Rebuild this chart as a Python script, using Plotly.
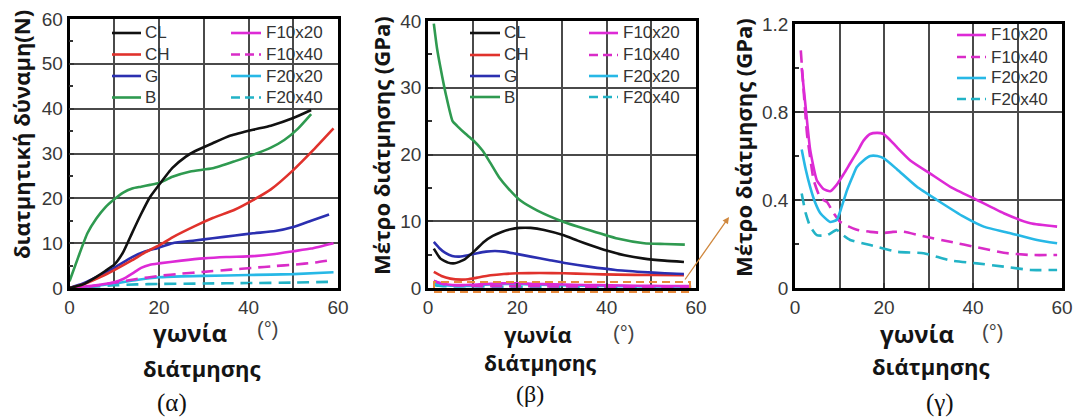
import plotly.graph_objects as go

W, H = 1076, 419

# ---------------- data ----------------
# (α) shear force (N) vs shear angle (deg)
a_CL_x = [0, 3, 6, 8, 10, 12, 14, 16, 18, 20, 23, 26, 28, 32, 36, 41, 45, 50, 54]
a_CL_y = [0, 0.8, 2.5, 3.8, 5.2, 8, 12.3, 16.5, 20.3, 23, 26.8, 29.3, 30.5, 32.3, 34, 35.3, 36.2, 37.9, 39.7]
a_CH_x = [0, 3, 7, 10, 14, 17, 20, 23, 28, 32, 37, 41, 45, 50, 54.5, 59]
a_CH_y = [0, 0.8, 2.5, 4, 6.2, 8, 9.5, 11.3, 13.8, 15.6, 17.5, 19.6, 22, 26.3, 30.8, 35.6]
a_G_x = [0, 3, 7, 10, 14, 17, 20, 23, 28, 32, 37, 41, 46, 50, 54, 58]
a_G_y = [0, 1, 2.9, 4.5, 6.9, 8.2, 9, 10, 10.6, 11.1, 11.7, 12.2, 12.7, 13.6, 15, 16.4]
a_B_x = [0, 2, 4, 6, 8, 10, 12, 14, 16, 18, 20, 23, 27, 32, 37, 41, 45, 48, 51, 54]
a_B_y = [1.5, 7, 12.2, 15.5, 18, 19.8, 21.3, 22.2, 22.6, 23, 23.4, 24.8, 26, 26.7, 28.3, 29.7, 31.3, 33, 35.5, 38.8]
a_F1020_x = [0, 5, 10, 12, 14, 16, 18, 20, 25, 30, 35, 41, 46, 50, 54, 59]
a_F1020_y = [0, 0.5, 1.3, 2, 3.2, 4.5, 5.2, 5.5, 6.1, 6.6, 6.9, 7.1, 7.6, 8.2, 8.8, 10]
a_F1040_x = [0, 5, 10, 15, 20, 25, 30, 36, 41, 46, 50, 55, 59]
a_F1040_y = [0, 0.4, 1.2, 2, 2.7, 3.2, 3.6, 4.1, 4.5, 4.9, 5.2, 5.7, 6.3]
a_F2020_x = [0, 5, 10, 15, 20, 25, 30, 40, 50, 59]
a_F2020_y = [0, 0.4, 1, 1.8, 2.4, 2.6, 2.7, 2.9, 3.1, 3.5]
a_F2040_x = [0, 5, 10, 15, 20, 30, 40, 50, 59]
a_F2040_y = [0, 0.3, 0.6, 0.8, 0.9, 1.0, 1.1, 1.2, 1.4]

# (β) shear modulus (GPa) vs shear angle
b_CL_x = [1.3, 2.8, 4.5, 6, 8, 10.5, 12.5, 14.5, 16.5, 18.5, 20.5, 23, 26, 30.4, 33.5, 36.4, 40, 44, 48.4, 53, 57.3]
b_CL_y = [5.9, 4.4, 3.8, 3.7, 4.2, 5.6, 6.9, 7.8, 8.4, 8.8, 9.0, 9.0, 8.7, 7.9, 7.1, 6.4, 5.6, 4.9, 4.4, 4.1, 3.9]
b_CH_x = [1.3, 3, 5, 7.5, 9, 11, 14, 17, 20, 25, 30.4, 36, 42.4, 50, 57.3]
b_CH_y = [2.4, 1.8, 1.4, 1.25, 1.3, 1.55, 1.9, 2.1, 2.2, 2.25, 2.2, 2.1, 2.0, 1.95, 1.9]
b_G_x = [1.3, 2.5, 3.8, 5.4, 7, 9, 11, 13, 15, 17, 19.5, 23, 27, 31, 36, 42, 48, 53, 57.3]
b_G_y = [6.9, 6, 5.3, 4.8, 4.7, 4.9, 5.2, 5.45, 5.55, 5.45, 5.15, 4.7, 4.2, 3.7, 3.2, 2.7, 2.4, 2.2, 2.1]
b_B_x = [1.3, 2, 2.8, 4, 5.5, 6.5, 8.4, 10, 12.2, 14, 15.9, 18, 20.7, 24.5, 30.4, 36.4, 42.4, 48.4, 53, 57.5]
b_B_y = [39.6, 36, 33, 29, 25, 24.3, 23.1, 22.2, 20.6, 18.7, 16.6, 14.9, 13.1, 11.6, 9.9, 8.6, 7.4, 6.7, 6.6, 6.5]

# (γ) shear modulus (GPa) of the F specimens (also shown in β)
g_F1020_x = [1.5, 2.5, 3.4, 4.9, 6.4, 7.9, 9.4, 11, 12.4, 14, 15.4, 16.9, 18.5, 19.9, 21.5, 22.9, 25.9, 30.4, 34.9, 40.9, 46.9, 52.9, 58.9]
g_F1020_y = [1.0, 0.8, 0.63, 0.49, 0.45, 0.44, 0.47, 0.52, 0.567, 0.62, 0.67, 0.70, 0.705, 0.70, 0.67, 0.64, 0.58, 0.52, 0.46, 0.40, 0.34, 0.294, 0.279]
g_F1040_x = [1.3, 2, 2.7, 3.5, 4.2, 5.7, 7.2, 8.7, 10.2, 12, 13.9, 16.9, 19.9, 22, 24.4, 28.9, 34.9, 40.9, 46.9, 52.9, 58.9]
g_F1040_y = [1.08, 0.88, 0.70, 0.58, 0.49, 0.41, 0.39, 0.34, 0.30, 0.28, 0.265, 0.255, 0.25, 0.255, 0.256, 0.235, 0.21, 0.185, 0.16, 0.15, 0.15]
g_F2020_x = [1.5, 2.4, 3.4, 4.5, 5.7, 7.9, 9.4, 10.5, 11.7, 12.8, 13.9, 15.4, 16.9, 18.5, 19.9, 22.9, 27.4, 31.9, 37.9, 42.4, 48.4, 54.4, 58.9]
g_F2020_y = [0.63, 0.54, 0.46, 0.39, 0.34, 0.30, 0.31, 0.37, 0.445, 0.50, 0.55, 0.58, 0.60, 0.60, 0.59, 0.54, 0.46, 0.40, 0.324, 0.279, 0.249, 0.218, 0.203]
g_F2040_x = [1.5, 2.4, 3.4, 4.9, 7.2, 9.4, 10.8, 12.4, 16.9, 22.9, 28.9, 34.9, 40.9, 46.9, 52.9, 58.9]
g_F2040_y = [0.43, 0.34, 0.28, 0.24, 0.24, 0.264, 0.24, 0.218, 0.195, 0.165, 0.158, 0.125, 0.112, 0.097, 0.082, 0.082]

names_C = ["CL", "CH", "G", "B"]
names_F = ["F10x20", "F10x40", "F20x20", "F20x40"]
x_ticks = [0, 20, 40, 60]

x_title1 = "γωνία"
x_title2 = "διάτμησης"
x_unit = "(°)"
y_title_a = "διατμητική δύναμη(N)"
y_title_bg = "Μέτρο διάτμησης (GPa)"
panel_labels = ["(α)", "(β)", "(γ)"]

# ---------------- styles ----------------
style = {
    "CL": dict(color="#111111", dash="solid"),
    "CH": dict(color="#e0322c", dash="solid"),
    "G": dict(color="#2b2fb0", dash="solid"),
    "B": dict(color="#2f9a50", dash="solid"),
    "F10x20": dict(color="#dd2ad6", dash="solid"),
    "F10x40": dict(color="#d92cc8", dash="12px,7px"),
    "F20x20": dict(color="#27b8e6", dash="solid"),
    "F20x40": dict(color="#22b3c6", dash="12px,7px"),
}
LW = 2.6


def px(x):
    return x / W


def py(y):
    return 1 - y / H


# plot-area pixel boxes (left, right, top, bottom)
boxes = {
    "a": (69.5, 338, 19, 288),
    "b": (428, 696, 21, 288),
    "g": (795, 1062, 24, 288),
}

fig = go.Figure()


def add(name, xs, ys, xa, ya):
    s = style[name]
    fig.add_trace(go.Scatter(
        x=xs, y=ys, mode="lines", name=name, xaxis=xa, yaxis=ya,
        line=dict(color=s["color"], dash=s["dash"], width=LW, shape="spline", smoothing=0.5),
        showlegend=False, hoverinfo="x+y+name",
    ))


# (α)
a_series = {
    "CL": (a_CL_x, a_CL_y), "CH": (a_CH_x, a_CH_y), "G": (a_G_x, a_G_y), "B": (a_B_x, a_B_y),
    "F10x20": (a_F1020_x, a_F1020_y), "F10x40": (a_F1040_x, a_F1040_y),
    "F20x20": (a_F2020_x, a_F2020_y), "F20x40": (a_F2040_x, a_F2040_y),
}
for n in ["F20x40", "F20x20", "F10x40", "F10x20", "G", "CH", "B", "CL"]:
    add(n, *a_series[n], "x", "y")

# (β)
b_series = {
    "CL": (b_CL_x, b_CL_y), "CH": (b_CH_x, b_CH_y), "G": (b_G_x, b_G_y), "B": (b_B_x, b_B_y),
    "F10x20": (g_F1020_x, g_F1020_y), "F10x40": (g_F1040_x, g_F1040_y),
    "F20x20": (g_F2020_x, g_F2020_y), "F20x40": (g_F2040_x, g_F2040_y),
}
for n in ["F20x40", "F20x20", "F10x40", "F10x20", "CH", "G", "CL", "B"]:
    add(n, *b_series[n], "x2", "y2")

# (γ)
for n in ["F20x40", "F10x40", "F20x20", "F10x20"]:
    add(n, *b_series[n], "x3", "y3")

TICKFONT = dict(family="Liberation Sans, Arial", size=19, color="#383838")
GRID = "#4a4a4a"


def xaxis(box):
    l, r, t, b = box
    return dict(
        domain=[px(l), px(r)], range=[0, 60], tickvals=x_ticks, ticks="inside", ticklen=5,
        tickwidth=1.5, tickcolor="#333", showgrid=True, gridcolor=GRID, gridwidth=1.5,
        minor=dict(dtick=10, tick0=0, showgrid=True, gridcolor=GRID, gridwidth=1.5, ticks=""),
        showline=True, linecolor="black", linewidth=2.6, mirror=True, zeroline=False,
        tickfont=TICKFONT, fixedrange=True, automargin=False,
    )


def yaxis(box, rng, dtick, mdtick, anchor):
    l, r, t, b = box
    return dict(
        domain=[py(b), py(t)], range=rng, dtick=dtick, tick0=0, ticks="inside", ticklen=5,
        tickwidth=1.5, tickcolor="#333", showgrid=True, gridcolor=GRID, gridwidth=1.5,
        minor=dict(dtick=mdtick, tick0=0, showgrid=False, ticks="inside", ticklen=4, tickcolor="#333"),
        showline=True, linecolor="black", linewidth=2.6, mirror=True, zeroline=False,
        tickfont=TICKFONT, anchor=anchor, fixedrange=True, automargin=False,
    )


fig.update_layout(
    template="none",
    width=W, height=H, margin=dict(l=0, r=0, t=0, b=0, pad=0, autoexpand=False),
    paper_bgcolor="white", plot_bgcolor="white", showlegend=False,
    xaxis=dict(xaxis(boxes["a"]), anchor="y"),
    yaxis=yaxis(boxes["a"], [0, 60], 10, 5, "x"),
    xaxis2=dict(xaxis(boxes["b"]), anchor="y2"),
    yaxis2=yaxis(boxes["b"], [0, 40], 10, 5, "x2"),
    xaxis3=dict(xaxis(boxes["g"]), anchor="y3"),
    yaxis3=yaxis(boxes["g"], [0, 1.2], 0.4, 0.2, "x3"),
)

ann = []
shapes = []


# manual legends (two columns in α and β, one in γ)
def legend(names, line_x0, line_x1, text_x, rows_y):
    for n, yy in zip(names, rows_y):
        s = style[n]
        shapes.append(dict(type="line", xref="paper", yref="paper",
                           x0=px(line_x0), x1=px(line_x1), y0=py(yy), y1=py(yy),
                           line=dict(color=s["color"], width=LW, dash=("solid" if s["dash"] == "solid" else "9px,5px"))))
        ann.append(dict(text=n, xref="paper", yref="paper", x=px(text_x), y=py(yy),
                        xanchor="left", yanchor="middle", showarrow=False,
                        font=dict(family="Liberation Sans, Arial", size=17, color="#333")))


legend(names_C, 112, 141, 143, [33, 54.5, 76, 97.5])
legend(names_F, 231, 261, 264, [33, 54.5, 76, 97.5])
legend(names_C, 470, 500, 502, [33, 55, 76, 97])
legend(names_F, 589, 618, 621, [33, 55, 76, 97])
legend(names_F, 957, 986, 989, [35, 57, 78, 99])

TITLEFONT = dict(family="Open Sans, DejaVu Sans", size=22, color="#141414")

# y titles
for txt, cx, cy in [(y_title_a, 21, 135), (y_title_bg, 381, 146), (y_title_bg, 743, 148)]:
    ann.append(dict(text="<b>" + txt + "</b>", xref="paper", yref="paper", x=px(cx), y=py(cy),
                    xanchor="center", yanchor="middle", textangle=-90, showarrow=False, font=TITLEFONT))

# x titles: (word-1 centre, size), (word-2 centre, size), unit centre
for c1, s1, c2, s2, cu in [((190, 332), 24, (201, 368), 22, (267, 329)),
                           ((538, 334), 22, (540, 363), 21, (623, 333)),
                           ((917, 333), 24, (930, 366), 22, (992, 332))]:
    ann.append(dict(text="<b>" + x_title1 + "</b>", xref="paper", yref="paper", x=px(c1[0]), y=py(c1[1]),
                    xanchor="center", yanchor="middle", showarrow=False,
                    font=dict(TITLEFONT, size=s1)))
    ann.append(dict(text="<b>" + x_title2 + "</b>", xref="paper", yref="paper", x=px(c2[0]), y=py(c2[1]),
                    xanchor="center", yanchor="middle", showarrow=False,
                    font=dict(TITLEFONT, size=s2)))
    ann.append(dict(text=x_unit, xref="paper", yref="paper", x=px(cu[0]), y=py(cu[1]),
                    xanchor="center", yanchor="middle", showarrow=False,
                    font=dict(family="Liberation Sans, Arial", size=20, color="#444")))

# panel labels
for txt, cx, cy, sz in zip(panel_labels, [172, 530, 940], [403, 394, 403], [25, 24, 25]):
    ann.append(dict(text=txt, xref="paper", yref="paper", x=px(cx), y=py(cy),
                    xanchor="center", yanchor="middle", showarrow=False,
                    font=dict(family="Liberation Serif, Times New Roman", size=sz, color="#111")))

# zoom indicator: dashed box in (β) and arrow to (γ)
shapes.append(dict(type="rect", xref="paper", yref="paper",
                   x0=px(434), x1=px(690), y0=py(292), y1=py(282),
                   line=dict(color="#e88a3c", width=2, dash="8px,5px")))
ann.append(dict(text="", xref="paper", yref="paper", x=px(729), y=py(217), ax=-45, ay=64,
                showarrow=True, arrowhead=2, arrowsize=1, arrowwidth=1.3, arrowcolor="#d0883e"))

fig.update_layout(annotations=ann, shapes=shapes)
fig.write_html(
    "out.html",
    config={"displayModeBar": False},
    post_script="document.body.style.margin='0';document.body.style.padding='0';"
                "document.body.style.overflow='hidden';",
)
